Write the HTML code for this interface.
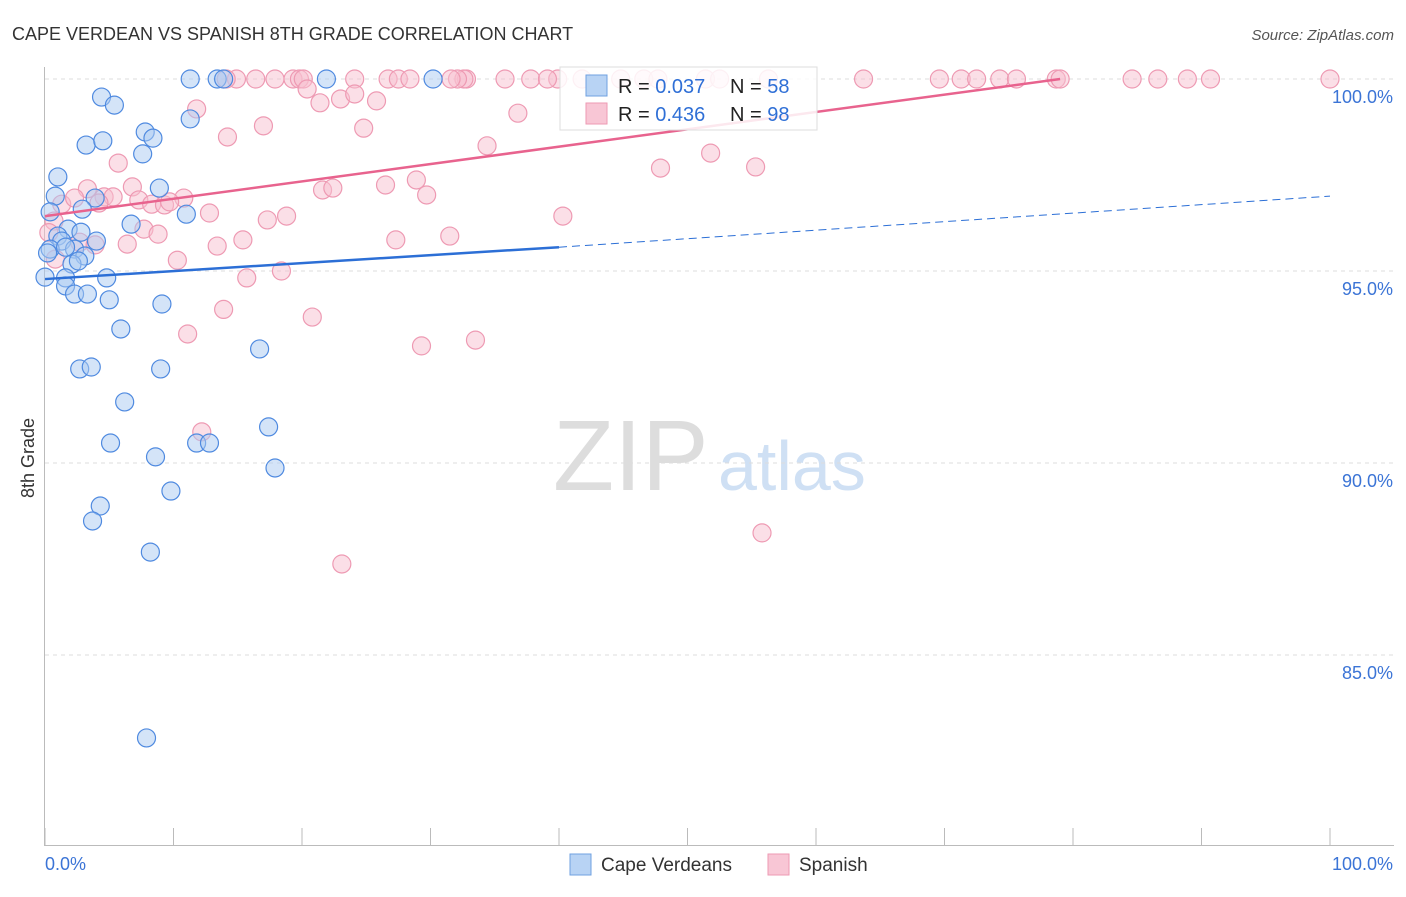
<!DOCTYPE html>
<html><head><meta charset="utf-8"><style>
body{margin:0;background:#fff;font-family:"Liberation Sans",sans-serif}
svg text{font-family:"Liberation Sans",sans-serif}
</style></head><body>
<svg id="c" width="1406" height="892">
<text x="12" y="40" font-size="18" fill="#333">CAPE VERDEAN VS SPANISH 8TH GRADE CORRELATION CHART</text>
<text x="1394" y="40" font-size="15" fill="#555" font-style="italic" text-anchor="end">Source: ZipAtlas.com</text>
<text x="34" y="458" font-size="18" fill="#333" transform="rotate(-90 34 458)" text-anchor="middle">8th Grade</text>
<text x="553" y="490" font-size="100" fill="#ddd" font-family="Liberation Serif">ZIP</text>
<text x="718" y="490" font-size="70" fill="#cfe0f4">atlas</text>
<g id="grid"></g><g id="pts"></g><g id="lines"></g>
<g>
<rect x="560" y="67" width="257" height="63" fill="#fff" fill-opacity="0.85" stroke="#ddd"/>
<rect x="586" y="75" width="21" height="21" fill="#b8d3f4" stroke="#6fa0e0"/>
<rect x="586" y="103" width="21" height="21" fill="#f8c6d5" stroke="#ee9ab3"/>
<text x="618" y="93" font-size="20" fill="#222">R = <tspan fill="#2f6fd6">0.037</tspan></text>
<text x="730" y="93" font-size="20" fill="#222">N = <tspan fill="#2f6fd6">58</tspan></text>
<text x="618" y="121" font-size="20" fill="#222">R = <tspan fill="#2f6fd6">0.436</tspan></text>
<text x="730" y="121" font-size="20" fill="#222">N = <tspan fill="#2f6fd6">98</tspan></text>
</g>
<g>
<rect x="570" y="854" width="21" height="21" fill="#b8d3f4" stroke="#6fa0e0"/>
<text x="601" y="871" font-size="19" fill="#333">Cape Verdeans</text>
<rect x="768" y="854" width="21" height="21" fill="#f8c6d5" stroke="#ee9ab3"/>
<text x="799" y="871" font-size="19" fill="#333">Spanish</text>
</g>
</svg>
<script>
const yTicks=[100,95,90,85];
const xTickLabels=["0.0%","100.0%"];
const blueX=[11.3,13.4,13.9,21.9,30.2,4.4,5.4,11.3,7.8,8.4,3.2,4.5,7.6,1.0,8.9,0.8,3.9,2.9,0.4,11.0,6.7,1.8,1.0,2.8,1.3,4.0,0.4,2.3,3.1,2.1,0.2,0.0,1.6,4.8,1.6,2.3,3.3,5.0,9.1,5.9,2.7,3.6,9.0,16.7,6.2,17.4,5.1,11.8,12.8,8.6,17.9,4.3,9.8,3.7,8.2,7.9,1.6,2.6];
const blueY=[100,100,100,100,100,99.53,99.32,98.96,98.62,98.46,98.28,98.39,98.05,97.45,97.16,96.95,96.9,96.61,96.54,96.48,96.22,96.09,95.91,96.01,95.78,95.78,95.57,95.57,95.39,95.18,95.47,94.84,94.82,94.82,94.61,94.4,94.4,94.25,94.14,93.49,92.45,92.5,92.45,92.97,91.59,90.94,90.52,90.52,90.52,90.16,89.87,88.88,89.27,88.49,87.68,82.84,95.62,95.26];
const pinkX=[14.9,16.4,17.9,19.3,19.8,24.1,26.7,27.5,28.4,32.8,32.6,32.1,35.8,37.8,39.9,41.8,44.8,46.6,47.7,51.4,52.5,56.3,63.7,69.6,71.3,72.5,74.3,75.6,78.7,79.0,84.6,86.6,88.9,90.7,100,14.1,20.1,31.6,39.1,
20.4,21.4,23.0,24.1,25.8,11.8,14.2,17.0,24.8,36.8,34.4,5.7,51.8,55.3,47.9,3.3,6.8,26.5,28.9,21.6,22.4,29.7,1.3,2.3,4.6,5.3,7.3,8.3,9.3,10.8,4.2,9.7,12.8,18.8,17.3,40.3,7.7,8.8,6.4,15.4,27.3,31.5,2.7,13.4,3.9,0.8,10.3,18.4,15.7,13.9,20.8,11.1,29.3,33.5,12.2,55.8,23.1,0.7,0.3];
const pinkY=[100,100,100,100,100,100,100,100,100,100,100,100,100,100,100,100,100,100,100,100,100,100,100,100,100,100,100,100,100,100,100,100,100,100,100,100,100,100,100,
99.74,99.38,99.48,99.61,99.43,99.22,98.49,98.78,98.72,99.11,98.26,97.81,98.07,97.71,97.68,97.14,97.19,97.24,97.37,97.11,97.16,96.98,96.74,96.9,96.93,96.93,96.85,96.74,96.72,96.9,96.77,96.8,96.51,96.43,96.33,96.43,96.09,95.96,95.7,95.81,95.81,95.91,95.75,95.65,95.68,95.31,95.28,95.0,94.82,94.0,93.8,93.36,93.05,93.2,90.81,88.18,87.37,96.3,96.0];
const blueLine=[[0,94.79],[40,95.62],[100,96.95]];
const pinkLine=[[0,96.43],[79,100]];
const X=v=>45+v*12.85, Y=v=>79+(100-v)*38.4;
const NS="http://www.w3.org/2000/svg";
function mk(t,a,p){const e=document.createElementNS(NS,t);for(const k in a)e.setAttribute(k,a[k]);p.appendChild(e);return e;}
const svg=document.getElementById('c'),grid=document.getElementById('grid'),pts=document.getElementById('pts'),lines=document.getElementById('lines');
yTicks.forEach(v=>{
 const l=mk('line',{x1:45,x2:1394,y1:Y(v),y2:Y(v),stroke:'#ddd','stroke-dasharray':'4 4'},grid);
 
 
 const t=mk('text',{x:1393,y:Y(v)+24,'font-size':18,fill:'#3b74d6','text-anchor':'end'},grid);
 t.textContent=v.toFixed(1)+'%';
 
 
});
const ax=mk('line',{x1:44.5,x2:44.5,y1:67,y2:846,stroke:'#bbb'},grid);


const bx=mk('line',{x1:44,x2:1394,y1:845.5,y2:845.5,stroke:'#bbb'},grid);


for(let i=0;i<=10;i++){const tk=mk('line',{x1:X(i*10),x2:X(i*10),y1:828,y2:846,stroke:'#bbb'},grid);
 
 }
xTickLabels.forEach((s,i)=>{const t=mk('text',{x:i?1393:45,y:870,'font-size':18,fill:'#3b74d6','text-anchor':i?'end':'start'},grid);t.textContent=s;
 
 });
pinkX.forEach((x,i)=>{const c=mk('circle',{cx:X(x),cy:Y(pinkY[i]),r:9,fill:'#f8bfd0','fill-opacity':0.5,stroke:'#ee9ab3','stroke-width':1.2},pts);
 
 });
blueX.forEach((x,i)=>{const c=mk('circle',{cx:X(x),cy:Y(blueY[i]),r:9,fill:'#a9c9f1','fill-opacity':0.5,stroke:'#4f8ae0','stroke-width':1.2},pts);
 
 });
let l1=mk('line',{x1:X(blueLine[0][0]),y1:Y(blueLine[0][1]),x2:X(blueLine[1][0]),y2:Y(blueLine[1][1]),stroke:'#2c6fd6','stroke-width':2.5},lines);


let l2=mk('line',{x1:X(blueLine[1][0]),y1:Y(blueLine[1][1]),x2:X(blueLine[2][0]),y2:Y(blueLine[2][1]),stroke:'#2c6fd6','stroke-width':1,'stroke-dasharray':'8 5'},lines);


let l3=mk('line',{x1:X(pinkLine[0][0]),y1:Y(pinkLine[0][1]),x2:X(pinkLine[1][0]),y2:Y(pinkLine[1][1]),stroke:'#e8638e','stroke-width':2.5},lines);


</script>
</body></html>
